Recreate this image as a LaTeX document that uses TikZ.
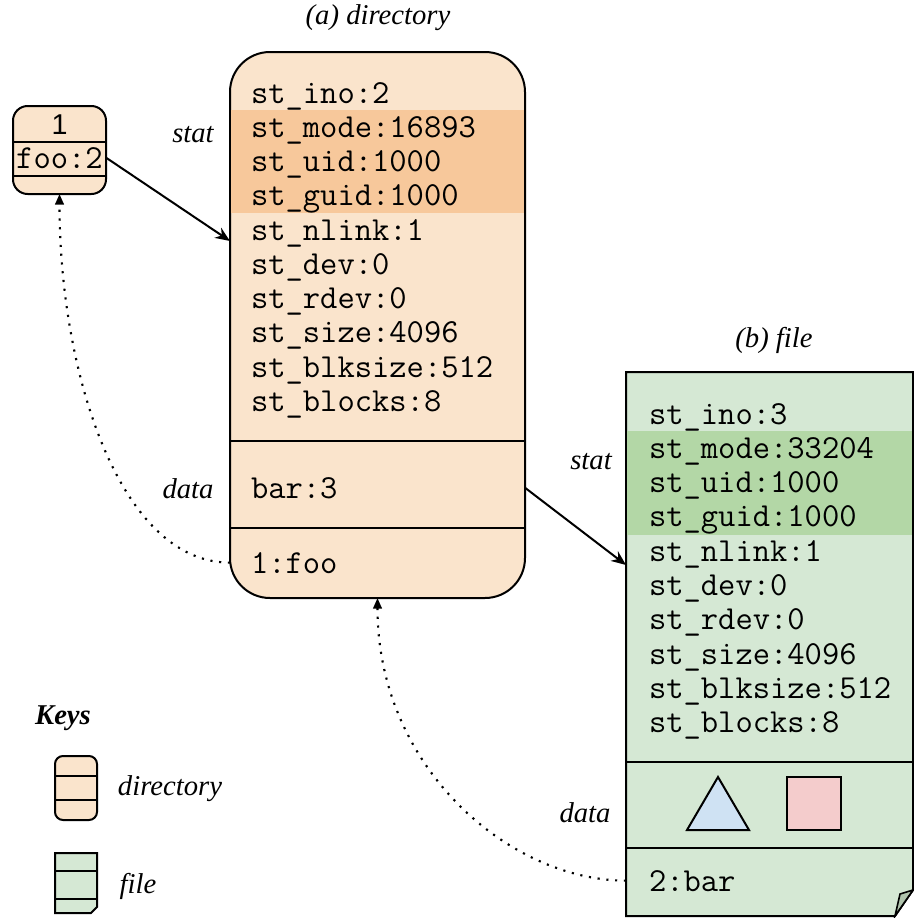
\documentclass[tikz,border=0pt]{standalone}
\usepackage{fontspec}
\setmainfont{Liberation Serif}
\setsansfont{Liberation Sans}
\usetikzlibrary{arrows.meta,positioning}
\definecolor{dirfill}{HTML}{FAE4CC}
\definecolor{dirmark}{HTML}{F7C89B}
\definecolor{filefill}{HTML}{D5E8D4}
\definecolor{filemark}{HTML}{B3D7A6}
\definecolor{foldfill}{HTML}{AFC3AC}
\definecolor{tricol}{HTML}{CFE2F3}
\definecolor{sqcol}{HTML}{F4CCCC}
\begin{document}
\begin{tikzpicture}[x=0.75pt,y=-0.75pt,every node/.style={inner sep=0pt,outer sep=0pt}]
\tikzstyle{dirbox} = [draw, line width=1.5pt, fill=dirfill, rounded corners=30pt, minimum width=295*0.75pt, minimum height=546*0.75pt]
\tikzstyle{filebox} = [minimum width=287*0.75pt, minimum height=544*0.75pt]
\tikzstyle{rootbox} = [draw, line width=1.5pt, fill=dirfill, rounded corners=11pt, minimum width=93*0.75pt, minimum height=88*0.75pt]
\tikzstyle{rule} = [line width=1.5pt]
\tikzstyle{mono} = [font=\fontsize{25.2}{28}\ttfamily]
\tikzstyle{sans} = [font=\fontsize{21.5}{25}\sffamily]
\tikzstyle{label} = [font=\fontsize{21.5}{25}\selectfont\itshape]
\tikzstyle{link} = [line width=1.5pt, -{Stealth[length=11pt,width=9pt]}]
\tikzstyle{backlink} = [line width=1.6pt, dash pattern=on 1.6pt off 5pt, -{Triangle[length=8pt,width=6.5pt]}]
\useasboundingbox (0,0) rectangle (914,918);
%
% (a) directory
\node[label] (dirtitle) at (378,18) {(a) directory};
\node[dirbox] (dir) at (377.5,325) {};
\fill[dirmark] (231,110) rectangle (524,213);
\draw[rule] (230,441) -- (525,441);
\draw[rule] (230,528) -- (525,528);
\foreach \entry [count=\i] in {st\_ino:2,st\_mode:16893,st\_uid:1000,st\_guid:1000,st\_nlink:1,st\_dev:0,st\_rdev:0,st\_size:4096,st\_blksize:512,st\_blocks:8}
  \node[mono,anchor=base west] (d\i) at (251,{103+34.25*(\i-1)}) {\entry};
\node[mono,anchor=base west] (dbar) at (251,498) {bar:3};
\node[mono,anchor=base west] (dfoo) at (251,573) {1:foo};
\node[label] (dstat) at (193,135) {stat};
\node[label] (ddata) at (188,489) {data};
\coordinate (dirin) at (230,241);
%
% root entry
\node[rootbox] (root) at (59.5,150) {};
\draw[rule] (13,142) -- (106,142);
\draw[rule] (13,176) -- (106,176);
\node[sans,anchor=base] (rootno) at (59.5,134) {1};
\node[mono,anchor=base] (rootfoo) at (59.5,168) {foo:2};
%
% (b) file
\node[label] (filetitle) at (774,340) {(b) file};
\node[filebox] (file) at (769.5,644) {};
\filldraw[rule, fill=filefill] (file.north west) -- (file.north east) -- (913,890) -- (895,916) -- (file.south west) -- cycle;
\filldraw[line width=1.2pt, fill=foldfill] (895,916) -- (900,894) -- (913,890) -- cycle;
\fill[filemark] (627,431) rectangle (912,535);
\draw[rule] (626,762) -- (913,762);
\draw[rule] (626,848) -- (913,848);
\foreach \entry [count=\i] in {st\_ino:3,st\_mode:33204,st\_uid:1000,st\_guid:1000,st\_nlink:1,st\_dev:0,st\_rdev:0,st\_size:4096,st\_blksize:512,st\_blocks:8}
  \node[mono,anchor=base west] (f\i) at (649,{424+34.3*(\i-1)}) {\entry};
\filldraw[rule, fill=tricol] (687,830) -- (749,830) -- (718,777) -- cycle;
\filldraw[rule, fill=sqcol] (787,777) rectangle (841,830);
\node[mono,anchor=base west] (fbar) at (649,891) {2:bar};
\node[label] (fstat) at (591,462) {stat};
\node[label] (fdata) at (585,813) {data};
\coordinate (filein) at (626,565);
%
% links
\draw[link] (root.east |- rootfoo) -- (dirin);
\draw[link] (dir.east |- dbar) -- (filein);
\draw[backlink] (dir.west |- dfoo) .. controls +(-110,0) and +(0,180) .. (root.south);
\draw[backlink] (file.west |- fbar) .. controls +(-116,0) and +(0,170) .. (dir.south);
%
% keys
\node[font=\fontsize{21.5}{25}\selectfont\bfseries\itshape] (keys) at (63,718) {Keys};
\node[draw, line width=1.5pt, fill=dirfill, rounded corners=6pt, minimum width=42*0.75pt, minimum height=64*0.75pt] (dirkey) at (76,788) {};
\draw[rule] (55,776) -- (97,776);
\draw[rule] (55,800) -- (97,800);
\node[label] (dirkeylabel) at (170,789) {directory};
\filldraw[rule, fill=filefill] (55,853) -- (97,853) -- (97,907) -- (91,913) -- (55,913) -- cycle;
\draw[rule] (55,871) -- (97,871);
\draw[rule] (55,899) -- (97,899);
\node[label] (filekeylabel) at (138,886) {file};
\end{tikzpicture}
\end{document}
